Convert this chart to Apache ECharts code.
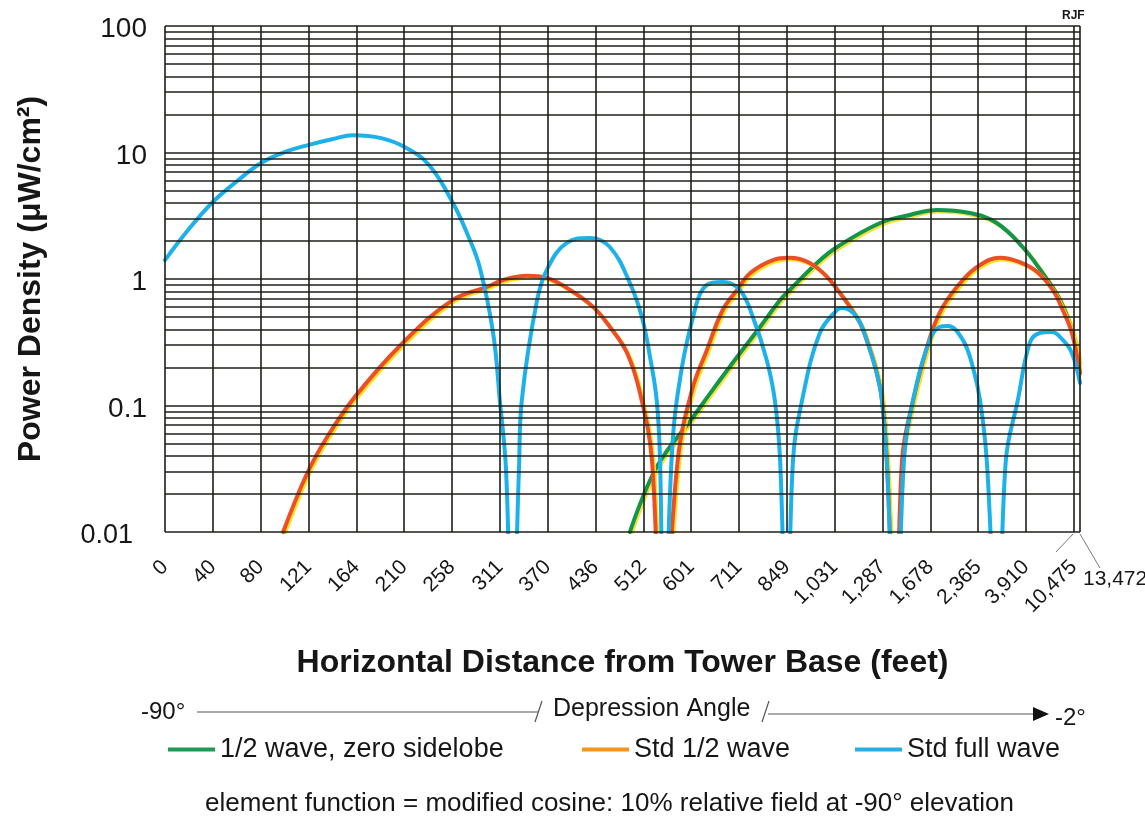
<!DOCTYPE html>
<html><head><meta charset="utf-8">
<script src="https://cdn.jsdelivr.net/npm/echarts@6/dist/echarts.min.js"></script>
<style>html,body{margin:0;padding:0;background:#fff}#c{width:1145px;height:820px}</style>
</head><body><div id="c"></div>
<script>
// x axis: equal angular steps of depression angle (-90° .. -2°), labelled by horizontal distance (feet)
const xTickLabels = ['0','40','80','121','164','210','258','311','370','436','512','601','711','849','1,031','1,287','1,678','2,365','3,910','10,475'];
const xEndLabel = '13,472';
const xMax = 19.13;
const yTickLabels = ['0.01','0.1','1','10','100'];
const xGridValues = [0,1,2,3,4,5,6,7,8,9,10,11,12,13,14,15,16,17,18,19,19.13];
const yGridValues = [0.01,0.02,0.03,0.04,0.05,0.06,0.07,0.08,0.09,
  0.1,0.2,0.3,0.4,0.5,0.6,0.7,0.8,0.9,
  1,2,3,4,5,6,7,8,9,
  10,20,30,40,50,60,70,80,90,100];

const seriesNames = ['1/2 wave, zero sidelobe','Std 1/2 wave','Std full wave'];

const halfWaveZeroSidelobe = [[9.72,0.01],[10.28,0.0327],[11.04,0.0811],[11.45,0.133],[11.96,0.242],[12.44,0.418],[12.86,0.683],[13.06,0.819],[13.63,1.34],[14.05,1.79],[14.95,2.77],[15.57,3.21],[16.14,3.51],[16.83,3.32],[17.39,2.77],[17.93,1.79],[18.35,1.11],[18.71,0.683],[18.98,0.374],[19.13,0.201]];

const stdHalfWave = [[2.47,0.01],[2.97,0.029],[3.39,0.0564],[3.97,0.117],[4.97,0.312],[6.02,0.683],[6.73,0.865],[7.07,0.982],[7.57,1.06],[7.98,1.02],[8.47,0.819],[8.95,0.602],[9.30,0.418],[9.66,0.26],[9.93,0.126],[10.18,0.037],[10.39,0.001],
  [10.72,0.037],[11.02,0.133],[11.33,0.275],[11.66,0.569],[11.96,0.819],[12.23,1.11],[12.71,1.41],[13.06,1.47],[13.48,1.34],[13.84,1.04],[14.11,0.774],[14.32,0.602],[14.53,0.449],[14.67,0.33],[14.88,0.181],[14.99,0.11],[15.09,0.037],[15.28,0.001],
  [15.41,0.037],[15.64,0.11],[15.99,0.342],[16.26,0.602],[16.68,0.982],[17.04,1.29],[17.45,1.47],[17.87,1.36],[18.23,1.14],[18.56,0.819],[18.77,0.569],[18.96,0.374],[19.13,0.181]];

const stdFullWave = [[0,1.41],[0.5,2.48],[1.0,4.06],[1.51,5.95],[2.01,8.26],[2.51,10.1],[3.01,11.5],[3.51,12.8],[3.93,13.7],[4.52,13.0],[5.02,11.0],[5.52,7.96],[6.02,3.99],[6.33,2.23],[6.58,1.24],[6.86,0.374],[7.0,0.11],[7.13,0.031],[7.26,0.001],
  [7.40,0.031],[7.46,0.11],[7.78,0.683],[8.01,1.24],[8.40,1.93],[8.88,2.11],[9.30,1.79],[9.72,0.929],[9.97,0.501],[10.14,0.242],[10.28,0.11],[10.35,0.037],[10.43,0.001],
  [10.58,0.031],[10.70,0.11],[11.04,0.501],[11.33,0.898],[11.66,0.946],[12.02,0.819],[12.29,0.501],[12.58,0.229],[12.75,0.11],[12.86,0.037],[13.0,0.001],
  [13.13,0.037],[13.32,0.11],[13.69,0.374],[14.05,0.569],[14.17,0.59],[14.46,0.501],[14.67,0.33],[14.88,0.181],[14.99,0.11],[15.09,0.037],[15.28,0.001],
  [15.45,0.037],[15.64,0.11],[15.99,0.33],[16.20,0.418],[16.37,0.425],[16.68,0.33],[16.89,0.201],[17.04,0.11],[17.18,0.037],[17.41,0.001],
  [17.58,0.037],[17.83,0.11],[18.08,0.312],[18.29,0.374],[18.54,0.381],[18.77,0.33],[18.96,0.26],[19.13,0.151]];

const FONT = '"Liberation Sans", Arial, Helvetica, sans-serif';
const INK = '#161616';
const GRIDC = '#1e1e18';

const chart = echarts.init(document.getElementById('c'), null, {renderer:'canvas'});

function curve(name, data, color, shadow) {
  return {
    name, type:'line', data, smooth:0.4, showSymbol:false, symbol:'none',
    clip:true, z:3, animation:false, silent:true,
    itemStyle:{color},
    lineStyle:Object.assign({color, width:4, cap:'round', join:'round'},
      shadow ? {shadowColor:shadow, shadowBlur:0, shadowOffsetX:1.6, shadowOffsetY:1.6} : {})
  };
}

const gridLines = [];
yGridValues.forEach(v => gridLines.push({yAxis:v}));
xGridValues.forEach(v => gridLines.push({xAxis:v}));

const legendBase = {
  orient:'horizontal', icon:'rect', itemWidth:47, itemHeight:4, top:736, selectedMode:false,
  textStyle:{fontFamily:FONT, fontSize:27, color:INK}, padding:0
};

chart.setOption({
  animation:false,
  backgroundColor:'#ffffff',
  grid:{left:165, top:26, right:1145-1080, bottom:820-532, containLabel:false, outerBoundsMode:'none', show:false},
  xAxis:{
    type:'value', min:0, max:xMax, interval:1,
    name:'Horizontal Distance from Tower Base (feet)', nameLocation:'middle', nameGap:115,
    nameTextStyle:{fontFamily:FONT, fontSize:32, fontWeight:'bold', color:INK},
    axisLine:{show:false}, axisTick:{show:false}, splitLine:{show:false},
    axisLabel:{rotate:45, margin:32, showMaxLabel:false, fontFamily:FONT, fontSize:21, color:INK,
      formatter:v => (Math.abs(v-Math.round(v))<1e-6 && Math.round(v)<xTickLabels.length) ? xTickLabels[Math.round(v)] : ''}
  },
  yAxis:{
    type:'log', logBase:10, min:0.01, max:100,
    name:'Power Density (\u03bcW/cm\u00b2)', nameLocation:'middle', nameGap:118, nameRotate:90,
    nameTextStyle:{fontFamily:FONT, fontSize:32, fontWeight:'bold', color:INK},
    axisLine:{show:false}, axisTick:{show:false}, splitLine:{show:false}, minorSplitLine:{show:false},
    axisLabel:{margin:18, fontFamily:FONT, fontSize:28, color:INK, padding:[7,0,0,0],
      formatter:v => { const k = Math.round(Math.log10(v))+2; return k===0 ? '{low|'+yTickLabels[k]+'}' : yTickLabels[k]; },
      rich:{low:{fontFamily:FONT, fontSize:27, color:INK, padding:[0,14,0,0]}}}
  },
  legend:[
    Object.assign({}, legendBase, {left:168, data:[{name:seriesNames[0], itemStyle:{color:'#1f9b55'}}]}),
    Object.assign({}, legendBase, {left:582, data:[{name:seriesNames[1], itemStyle:{color:'#f7941d'}}]}),
    Object.assign({}, legendBase, {left:855, data:[{name:seriesNames[2], itemStyle:{color:'#29aee4'}}]})
  ],
  series:[
    curve(seriesNames[0], halfWaveZeroSidelobe, '#14964a', '#f2e23a'),
    curve(seriesNames[1], stdHalfWave, '#ee4e27', '#ffe21a'),
    curve(seriesNames[2], stdFullWave, '#1cb1ea', null),
    {
      name:'grid', type:'line', data:[], z:6, silent:true, animation:false,
      markLine:{silent:true, symbol:['none','none'], animation:false, label:{show:false},
        lineStyle:{color:GRIDC, width:1.6, type:'solid'}, emphasis:{disabled:true},
        data:gridLines}
    }
  ],
  graphic:[
    {type:'text', left:1062, top:10, style:{text:'RJF', font:'bold 12px '+FONT, fill:INK}},
    {type:'line', shape:{x1:1073, y1:534, x2:1056, y2:552}, style:{stroke:'#777', lineWidth:1}},
    {type:'line', shape:{x1:1080, y1:534, x2:1100, y2:568}, style:{stroke:'#777', lineWidth:1}},
    {type:'text', left:1083, top:569, style:{text:xEndLabel, font:'21px '+FONT, fill:INK}},
    {type:'text', left:141, top:700, style:{text:'-90\u00b0', font:'24px '+FONT, fill:INK}},
    {type:'line', shape:{x1:197, y1:712, x2:538, y2:712}, style:{stroke:'#555', lineWidth:1.2}},
    {type:'line', shape:{x1:535, y1:722, x2:542, y2:701}, style:{stroke:'#555', lineWidth:1.2}},
    {type:'text', left:553, top:697, style:{text:'Depression Angle', font:'25px '+FONT, fill:INK}},
    {type:'line', shape:{x1:762, y1:722, x2:769, y2:701}, style:{stroke:'#555', lineWidth:1.2}},
    {type:'line', shape:{x1:768, y1:714, x2:1036, y2:714}, style:{stroke:'#555', lineWidth:1.2}},
    {type:'polygon', shape:{points:[[1033,707],[1049,714],[1033,721]]}, style:{fill:'#111'}},
    {type:'text', left:1055, top:706, style:{text:'-2\u00b0', font:'24px '+FONT, fill:INK}},
    {type:'text', left:205, top:791, style:{text:'element function = modified cosine: 10% relative field at -90\u00b0 elevation', font:'26px '+FONT, fill:INK}}
  ]
});
</script></body></html>
